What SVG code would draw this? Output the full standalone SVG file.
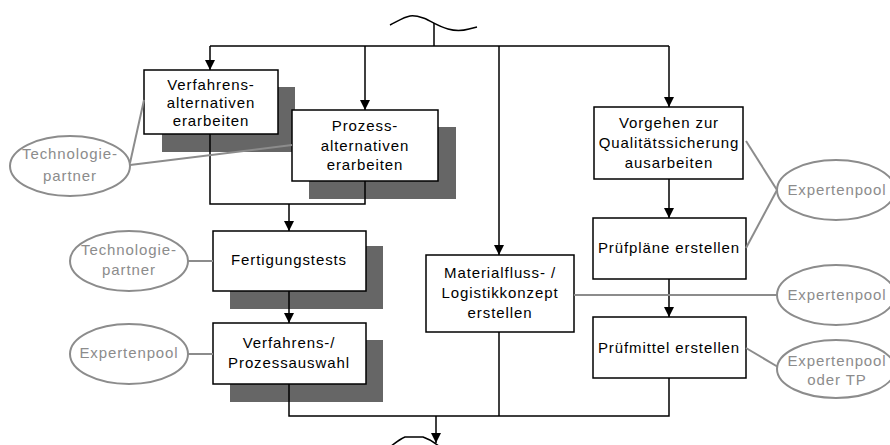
<svg xmlns="http://www.w3.org/2000/svg" width="890" height="445" viewBox="0 0 890 445">
  <defs>
    <marker id="arrow" markerUnits="userSpaceOnUse" markerWidth="10" markerHeight="11" refX="10" refY="5" orient="auto">
      <path d="M0,0 L10,5 L0,10 z" fill="#000"/>
    </marker>
    <style>
      text { font-family: "Liberation Sans", Arial, sans-serif; font-size: 15px; letter-spacing: 0.9px; text-anchor: middle; }
      .box { fill: #fff; stroke: #000; stroke-width: 1.5; }
      .shadow { fill: #666; stroke: none; }
      .oval { fill: #fff; stroke: #8c8c8c; stroke-width: 2; }
      .otext { fill: #8c8c8c; }
      .btext { fill: #000; }
      .flow { fill: none; stroke: #000; stroke-width: 1.5; }
      .arr { fill: none; stroke: #000; stroke-width: 1.5; marker-end: url(#arrow); }
      .link { fill: none; stroke: #8c8c8c; stroke-width: 2; }
    </style>
  </defs>
  <rect width="890" height="445" fill="#fff"/>

  <!-- process boxes with drop shadows -->
  <g id="verfahrensalternativen">
    <rect class="shadow" x="162" y="87" width="133" height="65"/>
    <rect class="box" x="144" y="70" width="134" height="64"/>
    <text class="btext" x="211" y="90">Verfahrens-</text>
    <text class="btext" x="211" y="108">alternativen</text>
    <text class="btext" x="211" y="126">erarbeiten</text>
  </g>
  <g id="prozessalternativen">
    <rect class="shadow" x="309" y="127" width="147" height="72"/>
    <rect class="box" x="292" y="110" width="146" height="71"/>
    <text class="btext" x="365" y="131">Prozess-</text>
    <text class="btext" x="365" y="151">alternativen</text>
    <text class="btext" x="365" y="170">erarbeiten</text>
  </g>
  <g id="fertigungstests">
    <rect class="shadow" x="230" y="246" width="153" height="63"/>
    <rect class="box" x="213" y="231" width="153" height="60"/>
    <text class="btext" x="289" y="265">Fertigungstests</text>
  </g>
  <g id="prozessauswahl">
    <rect class="shadow" x="230" y="340" width="153" height="62"/>
    <rect class="box" x="213" y="323" width="153" height="61"/>
    <text class="btext" x="289" y="348">Verfahrens-/</text>
    <text class="btext" x="289" y="368">Prozessauswahl</text>
  </g>
  <g id="materialfluss">
    <rect class="box" x="426" y="255" width="148" height="77"/>
    <text class="btext" x="500" y="278">Materialfluss- /</text>
    <text class="btext" x="500" y="298">Logistikkonzept</text>
    <text class="btext" x="500" y="318">erstellen</text>
  </g>
  <g id="qualitaetssicherung">
    <rect class="box" x="594" y="107" width="149" height="72"/>
    <text class="btext" x="669" y="128">Vorgehen zur</text>
    <text class="btext" x="669" y="148">Qualitätssicherung</text>
    <text class="btext" x="669" y="168">ausarbeiten</text>
  </g>
  <g id="pruefplaene">
    <rect class="box" x="593" y="218" width="153" height="61"/>
    <text class="btext" x="669" y="253">Prüfpläne erstellen</text>
  </g>
  <g id="pruefmittel">
    <rect class="box" x="593" y="317" width="153" height="61"/>
    <text class="btext" x="669" y="353">Prüfmittel erstellen</text>
  </g>

  <!-- control flow -->
  <g id="connectors">
    <path class="flow" d="M390,25 C398,21 404,17 410,16 C416,15 420,17 426,19 C432,22 440,27 448,29 C455,31 462,31 469,29 L477,27"/>
    <path class="flow" d="M434,23 V46"/>
    <path class="flow" d="M210,46 H669"/>
    <path class="arr" d="M210,46 V70"/>
    <path class="arr" d="M365,46 V110"/>
    <path class="arr" d="M499,46 V255"/>
    <path class="arr" d="M669,46 V107"/>
    <path class="flow" d="M210,134 V204 H365 V181"/>
    <path class="arr" d="M289,204 V231"/>
    <path class="arr" d="M289,291 V323"/>
    <path class="arr" d="M669,179 V218"/>
    <path class="arr" d="M669,279 V317"/>
    <path class="flow" d="M289,384 V416 H669 V378"/>
    <path class="flow" d="M499,332 V416"/>
    <path class="arr" d="M436,416 V443"/>
    <path class="flow" d="M390,447 C395,443 400,439 405,437 L423,437 C429,439 435,443 440,447"/>
  </g>

  <!-- resource links -->
  <g id="resource-links">
    <path class="link" d="M144,100 L130,163"/>
    <path class="link" d="M130,165 L292,145"/>
    <path class="link" d="M188,261 H213"/>
    <path class="link" d="M188,354 H213"/>
    <path class="link" d="M746,141 L777,190"/>
    <path class="link" d="M746,248 L777,190"/>
    <path class="link" d="M574,295 H777"/>
    <path class="link" d="M746,348 L778,367"/>
  </g>

  <!-- resource pools -->
  <g id="technologiepartner-1">
    <ellipse class="oval" cx="70" cy="166" rx="60" ry="30"/>
    <text class="otext" x="70" y="159">Technologie-</text>
    <text class="otext" x="70" y="181">partner</text>
  </g>
  <g id="technologiepartner-2">
    <ellipse class="oval" cx="129" cy="261" rx="59" ry="30"/>
    <text class="otext" x="129" y="255">Technologie-</text>
    <text class="otext" x="129" y="275">partner</text>
  </g>
  <g id="expertenpool-1">
    <ellipse class="oval" cx="129" cy="354" rx="59" ry="30"/>
    <text class="otext" x="129" y="358">Expertenpool</text>
  </g>
  <g id="expertenpool-2">
    <ellipse class="oval" cx="836" cy="190" rx="59" ry="30"/>
    <text class="otext" x="837" y="195">Expertenpool</text>
  </g>
  <g id="expertenpool-3">
    <ellipse class="oval" cx="836" cy="295" rx="59" ry="30"/>
    <text class="otext" x="837" y="300">Expertenpool</text>
  </g>
  <g id="expertenpool-tp">
    <ellipse class="oval" cx="836" cy="369" rx="59" ry="29"/>
    <text class="otext" x="837" y="366">Expertenpool</text>
    <text class="otext" x="837" y="385">oder TP</text>
  </g>
</svg>
